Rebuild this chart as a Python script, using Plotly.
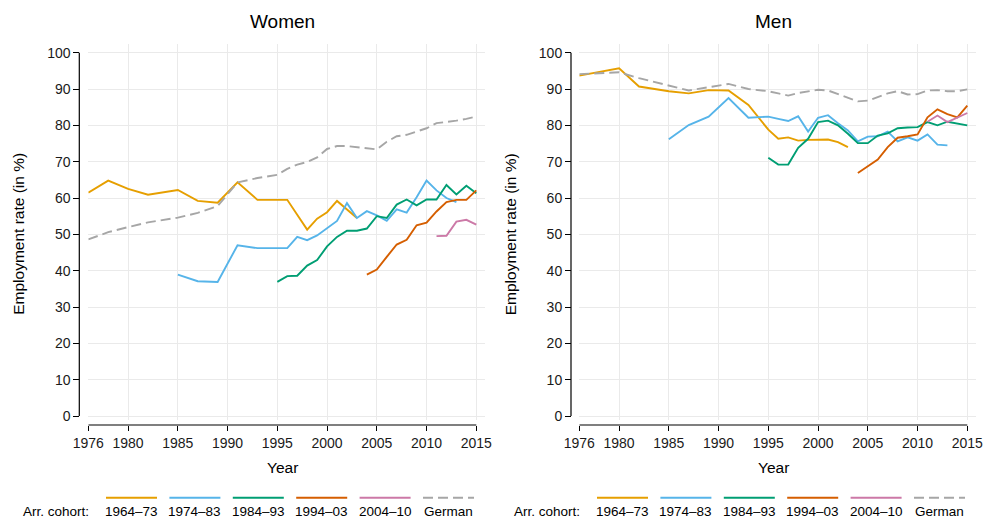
import plotly.graph_objects as go

# ---------------- data ----------------
years = [1976, 1978, 1980, 1982, 1985, 1987, 1989, 1991, 1993,
         1995, 1996, 1997, 1998, 1999, 2000, 2001, 2002, 2003, 2004, 2005,
         2006, 2007, 2008, 2009, 2010, 2011, 2012, 2013, 2014, 2015]

N = None
# Women
w_6473 = [61.5, 64.8, 62.5, 60.9, 62.2, 59.2, 58.7, 64.3, 59.5,
          59.6, 59.5, 55.4, 51.3, 54.3, 56.1, 59.2, 56.9, 54.5, N, N,
          N, N, N, N, N, N, N, N, N, N]
w_7483 = [N, N, N, N, 38.9, 37.1, 36.9, 47.0, 46.2,
          46.2, 46.2, 49.3, 48.4, 49.7, 51.6, 53.7, 58.6, 54.5, 56.4, 55.2,
          53.7, 56.9, 56.0, 60.2, 64.8, 62.1, 60.0, 58.9, N, N]
w_8493 = [N, N, N, N, N, N, N, N, N,
          36.9, 38.5, 38.6, 41.4, 42.9, 46.7, 49.3, 51.0, 51.0, 51.6, 55.0,
          54.5, 58.2, 59.6, 58.0, 59.6, 59.6, 63.6, 61.0, 63.4, 61.3]
w_9403 = [N, N, N, N, N, N, N, N, N,
          N, N, N, N, N, N, N, N, N, 38.9, 40.3,
          43.8, 47.2, 48.5, 52.5, 53.2, 56.3, 58.9, 59.5, 59.5, 62.1]
w_0410 = [N, N, N, N, N, N, N, N, N,
          N, N, N, N, N, N, N, N, N, N, N,
          N, N, N, N, N, 49.5, 49.6, 53.5, 54.0, 52.7]
w_german = [48.6, 50.6, 52.0, 53.3, 54.6, 55.9, 57.8, 64.3, 65.5,
            66.4, 68.0, 69.2, 69.9, 71.2, 73.5, 74.3, 74.3, 74.0, 73.8, 73.4,
            75.5, 77.0, 77.4, 78.2, 79.2, 80.6, 80.9, 81.3, 81.8, 82.4]
# Men
m_6473 = [93.7, 94.8, 95.7, 90.7, 89.4, 88.8, 89.7, 89.6, 85.6,
          78.8, 76.3, 76.7, 75.8, 76.0, 76.0, 76.1, 75.4, 74.0, N, N,
          N, N, N, N, N, N, N, N, N, N]
m_7483 = [N, N, N, N, 76.2, 80.1, 82.4, 87.5, 82.1,
          82.4, 81.8, 81.2, 82.5, 78.3, 82.1, 82.8, 80.6, 78.6, 75.6, 76.9,
          77.0, 78.3, 75.6, 76.7, 75.8, 77.5, 74.7, 74.5, N, N]
m_8493 = [N, N, N, N, N, N, N, N, N,
          71.1, 69.2, 69.2, 73.8, 76.3, 80.9, 81.3, 80.0, 77.7, 75.1, 75.1,
          77.2, 77.8, 79.2, 79.4, 79.5, 80.9, 80.0, 81.0, 80.4, 80.0]
m_9403 = [N, N, N, N, N, N, N, N, N,
          N, N, N, N, N, N, N, N, N, 66.9, 68.8,
          70.6, 74.0, 76.6, 77.0, 77.5, 82.2, 84.4, 83.1, 82.2, 85.4]
m_0410 = [N, N, N, N, N, N, N, N, N,
          N, N, N, N, N, N, N, N, N, N, N,
          N, N, N, N, N, 81.0, 82.7, 80.9, 82.1, 83.4]
m_german = [94.1, 94.4, 94.6, 93.0, 90.9, 89.6, 90.5, 91.4, 90.0,
            89.4, 88.8, 88.2, 88.9, 89.4, 89.8, 89.6, 88.6, 87.6, 86.6, 86.8,
            87.8, 88.8, 89.4, 88.5, 88.6, 89.6, 89.7, 89.4, 89.4, 89.9]

cohort_labels = ["1964–73", "1974–83", "1984–93", "1994–03", "2004–10", "German"]
x_ticks = [1976, 1980, 1985, 1990, 1995, 2000, 2005, 2010, 2015]
y_ticks = list(range(0, 101, 10))
panel_titles = ["Women", "Men"]

# ---------------- style ----------------
colors = ["#E69F00", "#56B4E9", "#009E73", "#D55E00", "#CC79A7", "#A6A6A6"]
dashes = ["solid"] * 5 + ["10px,5px"]
W, H = 983, 519
FONT = "Liberation Sans, Arial, Helvetica, sans-serif"


def px(x):
    return x / W


def py(y):
    return 1 - y / H


fig = go.Figure()

series = [[w_6473, w_7483, w_8493, w_9403, w_0410, w_german],
          [m_6473, m_7483, m_8493, m_9403, m_0410, m_german]]

for p, (xa, ya) in enumerate([("x", "y"), ("x2", "y2")]):
    for i, vals in enumerate(series[p]):
        fig.add_trace(go.Scatter(
            x=years, y=vals, mode="lines", xaxis=xa, yaxis=ya,
            connectgaps=True, showlegend=False, name=cohort_labels[i],
            line=dict(color=colors[i], width=1.9, dash=dashes[i]),
            hoverinfo="skip"))

# panel geometry in pixels
x0_px = [88.3, 579.3]          # pixel of year 1976
px_per_year = 388 / 39
yaxis_line_px = [79.3, 571.0]
y0_px, y100_px = 416.0, 52.7   # pixels of 0 and 100
plot_top, plot_bottom = 44.0, 420.0
xaxis_line_px = 425.0
ppu = (y0_px - y100_px) / 100

yr_lo = -(plot_bottom - y0_px) / ppu
yr_hi = 100 + (y100_px - plot_top) / ppu
ydom = [py(plot_bottom), py(plot_top)]

axis_common = dict(
    showline=False, ticks="outside", tickcolor="#000000", tickwidth=1,
    showgrid=True, gridcolor="#EAEAEA", gridwidth=1, zeroline=False,
    automargin=False, ticklabeloverflow="allow",
    tickfont=dict(family=FONT, size=14, color="#1a1a1a"), fixedrange=True)

layout_axes = {}
shapes = []
annotations = []
for p in range(2):
    sfx = "" if p == 0 else "2"
    left = x0_px[p]
    right = left + 39 * px_per_year + 9
    xr_hi = 1976 + (right - left) / px_per_year
    layout_axes["xaxis" + sfx] = dict(
        axis_common, domain=[px(left), px(right)], range=[1976, xr_hi],
        tickvals=x_ticks, ticklen=5, anchor="free", position=py(xaxis_line_px))
    layout_axes["yaxis" + sfx] = dict(
        axis_common, domain=ydom, range=[yr_lo, yr_hi], tickvals=y_ticks,
        ticklen=6, anchor="free", position=px(yaxis_line_px[p]))
    xref = "x" + sfx
    yref = "y" + sfx
    # axis lines (offset, Stata-like)
    shapes.append(dict(type="line", xref=xref, yref="paper", x0=1976, x1=2015,
                       y0=py(xaxis_line_px), y1=py(xaxis_line_px),
                       line=dict(color="#000000", width=1.2)))
    shapes.append(dict(type="line", xref="paper", yref=yref,
                       x0=px(yaxis_line_px[p]), x1=px(yaxis_line_px[p]),
                       y0=0, y1=100, line=dict(color="#000000", width=1.2)))
    # titles
    centre_x = (left + left + 39 * px_per_year) / 2
    annotations.append(dict(text=panel_titles[p], x=px(centre_x), y=py(21.7),
                            xref="paper", yref="paper", showarrow=False,
                            xanchor="center", yanchor="middle",
                            font=dict(family=FONT, size=19, color="#000000")))
    annotations.append(dict(text="Year", x=px(centre_x), y=py(467),
                            xref="paper", yref="paper", showarrow=False,
                            xanchor="center", yanchor="middle",
                            font=dict(family=FONT, size=15.5, color="#000000")))
    annotations.append(dict(text="Employment rate (in %)",
                            x=px(18.5 + (0 if p == 0 else 491.5)), y=py(234.3),
                            xref="paper", yref="paper", showarrow=False,
                            textangle=-90, xanchor="center", yanchor="middle",
                            font=dict(family=FONT, size=15.5, color="#000000")))
    # legend (Stata style: key above label)
    off = 0 if p == 0 else 491
    annotations.append(dict(text="Arr. cohort:", x=px(90.7 + off), y=py(511.7),
                            xref="paper", yref="paper", showarrow=False,
                            xanchor="right", yanchor="middle",
                            font=dict(family=FONT, size=13.5, color="#000000")))
    for i, lab in enumerate(cohort_labels):
        sx0 = 106 + off + i * 63.4
        sx1 = sx0 + 51
        shapes.append(dict(type="line", xref="paper", yref="paper",
                           x0=px(sx0), x1=px(sx1), y0=py(497.7), y1=py(497.7),
                           line=dict(color=colors[i], width=2, dash=dashes[i])))
        annotations.append(dict(text=lab, x=px((sx0 + sx1) / 2), y=py(511.7),
                                xref="paper", yref="paper", showarrow=False,
                                xanchor="center", yanchor="middle",
                                font=dict(family=FONT, size=13.5, color="#000000")))

fig.update_layout(
    width=W, height=H, margin=dict(l=0, r=0, t=0, b=0, pad=0),
    paper_bgcolor="#FFFFFF", plot_bgcolor="#FFFFFF",
    font=dict(family=FONT, color="#000000"),
    showlegend=False, shapes=shapes, annotations=annotations,
    **layout_axes)

fig.write_html(
    "out.html",
    config={"displayModeBar": False, "responsive": False},
    post_script="document.body.style.margin='0px';"
                "document.body.style.overflow='hidden';")
